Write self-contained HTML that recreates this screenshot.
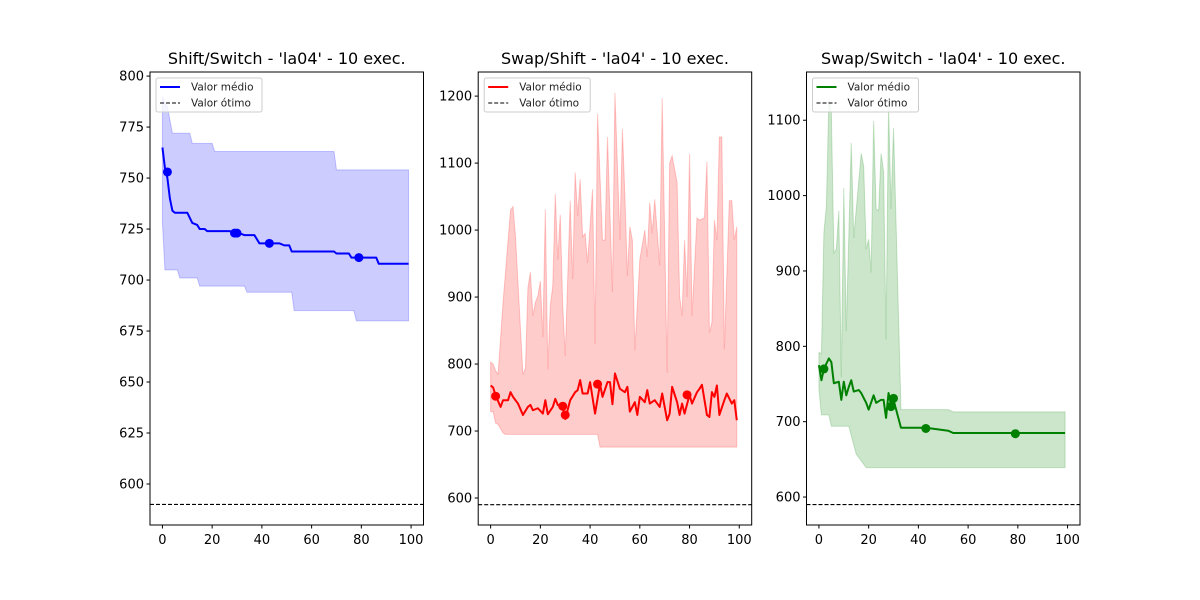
<!DOCTYPE html>
<html><head><meta charset="utf-8"><style>
body{margin:0;background:#fff;}
svg{display:block;font-family:"DejaVu Sans","Liberation Sans",sans-serif;}
</style></head><body>
<svg id="fig" width="1200" height="600" viewBox="0 0 1200 600"></svg>
<script>
// ---- Panel 1: Shift/Switch ----
const p1MeanX=[0,1,2,3,4,5,10,12,14,15,17,18,27,29,31,33,37,39,47,49,51,52,69,70,75,76,86,87,99];
const p1MeanY=[765,755,750,740,734,733,733,728,727,725,725,724,724,723,723,722,722,718,718,717,717,714,714,713,713,711,711,708,708];
const p1UpX=[0,1,2,4,11,12,20,21,69,70,99];
const p1UpY=[790,787,785,772,772,767,767,763,763,754,754];
const p1LoX=[0,1,6,7,14,15,33,34,52,53,77,78,99];
const p1LoY=[728,705,705,701,701,697,697,694,694,685,685,680,680];
const p1MarkX=[2,29,30,43,79];
const p1MarkY=[753,723,723,718,711];
// ---- Panel 2: Swap/Shift ----
const p2MeanX=[0,1,2,4,5,7,8,9,11,13,15,16,17,19,21,22,23,25,26,27,29,30,32,34,35,36,37,39,40,42,44,45,47,48,49,50,52,54,55,56,58,59,60,62,63,64,66,68,69,71,72,73,75,76,77,78,80,81,83,84,85,87,88,89,90,91,92,94,95,97,98,99];
const p2MeanY=[768,765,753,736,746,746,758,751,741,724,736,739,731,734,726,746,725,736,748,739,736,718,746,758,761,776,756,756,773,726,770,751,773,773,740,786,763,758,766,729,743,724,751,743,761,741,746,736,756,716,726,766,743,724,741,726,754,741,758,763,769,724,721,758,751,768,724,746,756,741,746,716];
const p2UpX=[0,1,2,3,5,8,9,10,13,14,15,16,17,18,19,20,21,22,23,24,25,26,27,28,29,30,32,33,34,35,36,37,38,39,41,42,43,45,46,47,49,50,52,53,54,55,56,57,58,60,62,63,64,65,66,68,69,71,72,73,75,76,77,78,79,80,81,83,84,86,87,88,89,90,91,92,93,94,96,97,98,99];
const p2UpY=[803,800,790,785,892,1030,1035,990,784,794,914,937,872,892,902,924,840,1031,792,887,917,1054,956,1023,887,812,1044,927,1086,1021,1076,990,995,951,1061,830,1174,985,985,1139,908,1205,985,1151,1051,932,1005,985,820,956,1000,960,1041,995,1046,947,1197,787,1100,1111,1071,902,872,985,900,1114,872,1018,1015,1018,1102,847,862,1015,985,1139,1139,822,1044,1044,985,1005];
const p2LoX=[0,1,2,3,5,6,43,44,99];
const p2LoY=[729,729,712,710,697,695,695,676,676];
const p2MarkX=[2,29,30,43,79];
const p2MarkY=[752,737,724,770,754];
// ---- Panel 3: Swap/Switch ----
const p3MeanX=[0,1,2,4,5,6,8,9,10,11,12,13,14,16,17,19,20,22,23,25,26,27,28,29,30,33,43,52,54,99];
const p3MeanY=[775,755,770,784,779,751,753,729,753,735,746,755,740,742,738,725,716,735,725,729,729,705,738,722,729,692,692,688,685,685];
const p3UpX=[0,1,2,3,4,5,6,7,8,9,10,11,13,14,17,18,19,20,21,22,23,24,25,26,27,28,29,30,33,52,54,99];
const p3UpY=[792,790,951,986,1128,1110,924,929,980,759,1010,820,1070,944,1056,1039,929,942,898,1099,982,980,1056,1032,809,1121,982,1090,716,716,713,713];
const p3LoX=[0,1,4,5,12,15,19,99];
const p3LoY=[743,709,709,694,694,657,639,639];
const p3MarkX=[2,29,30,43,79];
const p3MarkY=[770,720,731,691,684];
const xTicks=[0,20,40,60,80,100];
const p1YTicks=[600,625,650,675,700,725,750,775,800];
const p2YTicks=[600,700,800,900,1000,1100,1200];
const p3YTicks=[600,700,800,900,1000,1100];
const optimum=590;

const NS="http://www.w3.org/2000/svg";
const svg=document.getElementById('fig');
function mk(tag,attrs,parent){const e=document.createElementNS(NS,tag);for(const k in attrs)e.setAttribute(k,attrs[k]);(parent||svg).appendChild(e);return e;}

const panels=[
 {key:'shift-switch',title:"Shift/Switch - 'la04' - 10 exec.",x0:150,ymin:579.9,ymax:802,yt:p1YTicks,c:'#0000ff',fill:'rgba(0,0,255,0.2)',
  mx:p1MeanX,my:p1MeanY,ux:p1UpX,uy:p1UpY,lx:p1LoX,ly:p1LoY,kx:p1MarkX,ky:p1MarkY},
 {key:'swap-shift',title:"Swap/Shift - 'la04' - 10 exec.",x0:478.2,ymin:559.7,ymax:1236,yt:p2YTicks,c:'#ff0000',fill:'rgba(255,0,0,0.2)',
  mx:p2MeanX,my:p2MeanY,ux:p2UpX,uy:p2UpY,lx:p2LoX,ly:p2LoY,kx:p2MarkX,ky:p2MarkY},
 {key:'swap-switch',title:"Swap/Switch - 'la04' - 10 exec.",x0:806.5,ymin:562.9,ymax:1164,yt:p3YTicks,c:'#008000',fill:'rgba(0,128,0,0.2)',
  mx:p3MeanX,my:p3MeanY,ux:p3UpX,uy:p3UpY,lx:p3LoX,ly:p3LoY,kx:p3MarkX,ky:p3MarkY}
];
const W=273.5,T=72,B=525;
panels.forEach(p=>{
  const g=mk('g',{});
  
  
  const sx=v=>p.x0+(v+5)/110*W;
  const sy=v=>B-(v-p.ymin)/(p.ymax-p.ymin)*(B-T);
  const cid='clip-'+p.key;
  const cp=mk('clipPath',{id:cid},g);mk('rect',{x:p.x0,y:T,width:W,height:B-T},cp);
  const inner=mk('g',{'clip-path':'url(#'+cid+')'},g);
  let d='M'+p.ux.map((x,i)=>sx(x)+','+sy(p.uy[i])).join('L');
  for(let i=p.lx.length-1;i>=0;i--)d+='L'+sx(p.lx[i])+','+sy(p.ly[i]);
  d+='Z';
  const band=mk('path',{d:d,fill:p.fill,stroke:p.fill,'stroke-width':1},inner);
  
  
  const opt=mk('line',{x1:p.x0,x2:p.x0+W,y1:sy(optimum),y2:sy(optimum),stroke:'#000','stroke-width':1.1,'stroke-dasharray':'4,2'},inner);
  
  
  const mean=mk('polyline',{points:p.mx.map((x,i)=>sx(x)+','+sy(p.my[i])).join(' '),fill:'none',stroke:p.c,'stroke-width':2,'stroke-linejoin':'round'},inner);
  
  
  p.kx.forEach((x,i)=>{
    const c=mk('circle',{cx:sx(x),cy:sy(p.ky[i]),r:4.5,fill:p.c},inner);
    
    
  });
  const fr=mk('rect',{x:p.x0,y:T,width:W,height:B-T,fill:'none',stroke:'#000','stroke-width':1},g);
  
  
  xTicks.forEach(v=>{
    mk('line',{x1:sx(v),x2:sx(v),y1:B,y2:B+3.5,stroke:'#000'},g);
    const t=mk('text',{x:sx(v),y:B+19,'font-size':13,'text-anchor':'middle',fill:'#000'},g);t.textContent=v;
    
    
  });
  p.yt.forEach(v=>{
    const y=sy(v);
    mk('line',{x1:p.x0-3.5,x2:p.x0,y1:y,y2:y,stroke:'#000'},g);
    const t=mk('text',{x:p.x0-6,y:y+4.5,'font-size':13,'text-anchor':'end',fill:'#000'},g);t.textContent=v;
    
    
  });
  const ti=mk('text',{x:p.x0+W/2,y:64,'font-size':16,'text-anchor':'middle',fill:'#000'},g);ti.textContent=p.title;
  
  
  const lg=mk('g',{},g);
  
  
  const lx=p.x0+6;
  mk('rect',{x:lx,y:78,width:106,height:34,rx:2,fill:'#fff','fill-opacity':0.8,stroke:'#ccc'},lg);
  mk('line',{x1:lx+4,x2:lx+24,y1:87,y2:87,stroke:p.c,'stroke-width':2},lg);
  const t1=mk('text',{x:lx+35,y:90.5,'font-size':10.5,fill:'#222'},lg);t1.textContent='Valor médio';
  
  
  mk('line',{x1:lx+4,x2:lx+24,y1:103,y2:103,stroke:'#000','stroke-width':1.1,'stroke-dasharray':'4,2'},lg);
  const t2=mk('text',{x:lx+35,y:106.5,'font-size':10.5,fill:'#222'},lg);t2.textContent='Valor ótimo';
  
  
});
</script>
</body></html>
